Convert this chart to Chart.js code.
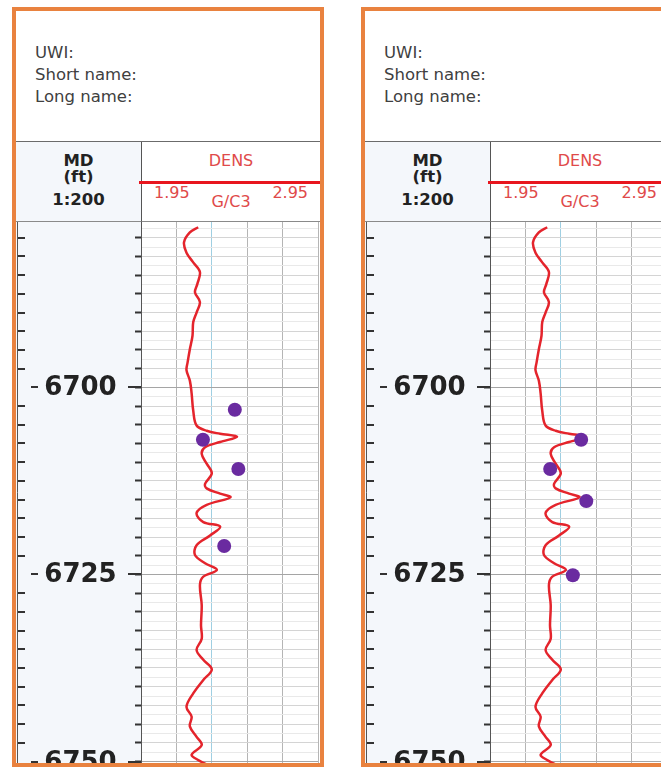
<!DOCTYPE html>
<html><head><meta charset="utf-8">
<script src="https://cdn.jsdelivr.net/npm/chart.js@4.4.1/dist/chart.umd.min.js"></script>
<style>
body{margin:0;width:661px;height:767px;overflow:hidden;position:relative;background:#fff;font-family:"DejaVu Sans",sans-serif;}
.panel{position:absolute;top:7px;width:312px;height:760px;border:4px solid #E9823F;box-sizing:border-box;background:#fff;overflow:hidden;}
.hdr{position:absolute;left:0;top:0;width:100%;height:131px;border-bottom:1px solid #6b6b6b;box-sizing:border-box;}
.hdr div{position:absolute;left:19px;font-size:16.5px;color:#404040;line-height:20px;white-space:nowrap}
.mdh{position:absolute;left:0;top:131px;width:126px;height:80px;background:#f4f7fb;border-right:1px solid #555;border-bottom:1px solid #8a8a8a;box-sizing:border-box;font-weight:bold;color:#222;}
.mdh div{position:absolute;left:0;width:125px;text-align:center;font-size:16.5px;line-height:18px}
.dh{position:absolute;left:126px;top:131px;right:0;height:80px;border-bottom:1px solid #8a8a8a;box-sizing:border-box;color:#e04a4a;}
.dh div{position:absolute;font-size:16px;line-height:18px;white-space:nowrap}
.dh .bar{position:absolute;left:-3px;right:0;top:39px;height:3px;background:#e8161e}
.track{position:absolute;left:0;top:211px;}
</style>
</head><body>
<div class="panel" style="left:12px">
  <div class="hdr"><div style="top:32px">UWI:</div><div style="top:54px">Short name:</div><div style="top:76px">Long name:</div></div>
  <div class="mdh"><div style="top:10px">MD</div><div style="top:26px">(ft)</div><div style="top:49px">1:200</div></div>
  <div class="dh"><div style="left:0;width:100%;text-align:center;top:10px">DENS</div><div class="bar"></div>
    <div style="left:12px;top:42px">1.95</div><div style="left:0;width:100%;text-align:center;top:51px">G/C3</div><div style="right:12px;top:42px">2.95</div></div>
  <canvas class="track" id="c1" width="304" height="541"></canvas>
</div>
<div class="panel" style="left:361px">
  <div class="hdr"><div style="top:32px">UWI:</div><div style="top:54px">Short name:</div><div style="top:76px">Long name:</div></div>
  <div class="mdh"><div style="top:10px">MD</div><div style="top:26px">(ft)</div><div style="top:49px">1:200</div></div>
  <div class="dh"><div style="left:0;width:100%;text-align:center;top:10px">DENS</div><div class="bar"></div>
    <div style="left:12px;top:42px">1.95</div><div style="left:0;width:100%;text-align:center;top:51px">G/C3</div><div style="right:12px;top:42px">2.95</div></div>
  <canvas class="track" id="c2" width="304" height="541"></canvas>
</div>
<script>
// ---- data ----
const curveDepth = [6678.6, 6679.3, 6680.6, 6682.0, 6683.3, 6684.6, 6686.2, 6687.3, 6688.6, 6690.0, 6691.3, 6693.1, 6694.9, 6696.7, 6697.7, 6699.1, 6700.8, 6703.1, 6705.1, 6705.8, 6706.2, 6706.6, 6707.3, 6708.0, 6708.9, 6710.2, 6711.5, 6712.9, 6713.5, 6714.2, 6714.7, 6715.7, 6716.8, 6718.0, 6718.6, 6719.8, 6721.1, 6722.4, 6723.5, 6724.4, 6725.3, 6726.4, 6729.1, 6731.8, 6733.6, 6735.1, 6736.4, 6737.7, 6739.1, 6740.9, 6742.7, 6744.0, 6745.3, 6746.7, 6747.8, 6749.1, 6749.8, 6750.4];
const curveDens = [2.273, 2.226, 2.193, 2.207, 2.245, 2.283, 2.268, 2.255, 2.283, 2.264, 2.245, 2.241, 2.226, 2.213, 2.207, 2.226, 2.236, 2.245, 2.264, 2.321, 2.397, 2.493, 2.397, 2.312, 2.293, 2.321, 2.350, 2.312, 2.321, 2.397, 2.455, 2.321, 2.264, 2.302, 2.397, 2.340, 2.264, 2.255, 2.312, 2.379, 2.302, 2.283, 2.293, 2.289, 2.293, 2.264, 2.302, 2.350, 2.302, 2.245, 2.207, 2.236, 2.226, 2.264, 2.293, 2.236, 2.273, 2.321];
const dotDepthLeft = [6703.0, 6707.0, 6710.9, 6721.2];
const dotDensLeft = [2.48, 2.30, 2.50, 2.42];
const dotDepthRight = [6707.0, 6710.9, 6715.2, 6725.1];
const dotDensRight = [2.465, 2.29, 2.494, 2.418];
const depthLabels = [6700, 6725, 6750];
const densGridTicks = [1.95, 2.15, 2.35, 2.55, 2.75, 2.95];
const depthMin = 6677.9, depthMax = 6750.2, densMin = 1.95, densMax = 2.95;

function near(v, m){ const r = v / m; return Math.abs(r - Math.round(r)) < 1e-6; }

const mdPlugin = {
  id: 'mdcol',
  beforeDraw(chart){
    const {ctx, chartArea:a} = chart;
    ctx.save();
    ctx.fillStyle = '#f4f7fb'; ctx.fillRect(0, 0, a.left, chart.height);
    ctx.fillStyle = '#ffffff'; ctx.fillRect(a.left, a.top, a.right - a.left, a.bottom - a.top);
    ctx.restore();
  },
  afterDraw(chart){
    const {ctx, chartArea:a} = chart;
    const ys = chart.scales.y;
    ctx.save();
    ctx.strokeStyle = '#555'; ctx.lineWidth = 1;
    ctx.beginPath(); ctx.moveTo(1.5, 0); ctx.lineTo(1.5, chart.height); ctx.stroke();
    ctx.strokeStyle = '#333'; ctx.lineWidth = 2;
    ys.ticks.forEach(t => {
      if (!near(t.value, 2.5) || near(t.value, 25)) return;
      const py = Math.round(ys.getPixelForValue(t.value));
      ctx.beginPath(); ctx.moveTo(2, py); ctx.lineTo(9, py); ctx.stroke();
    });
    ctx.fillStyle = '#222';
    ctx.font = 'bold 26px "DejaVu Sans"';
    ctx.textAlign = 'center'; ctx.textBaseline = 'middle';
    depthLabels.forEach(v => {
      const py = Math.round(ys.getPixelForValue(v));
      ctx.beginPath(); ctx.moveTo(15, py); ctx.lineTo(22, py); ctx.stroke();
      ctx.beginPath(); ctx.moveTo(a.left - 13, py); ctx.lineTo(a.left, py); ctx.stroke();
      ctx.fillText(String(v), a.left / 2 + 2, py + 1);
    });
    ctx.restore();
  }
};

function makeChart(id, dDepth, dDens){
  return new Chart(document.getElementById(id), {
    type: 'scatter',
    data: { datasets: [
      { data: dDepth.map((d, i) => ({x: dDens[i], y: d})), pointRadius: 7, pointHoverRadius: 7,
        backgroundColor: '#6a2ba0', borderWidth: 0, order: 1 },
      { data: curveDepth.map((d, i) => ({x: curveDens[i], y: d})), showLine: true, pointRadius: 0,
        borderColor: '#e4242c', borderWidth: 2.5, tension: 0.35, order: 2 }
    ]},
    options: {
      responsive: false, animation: false, devicePixelRatio: 1,
      layout: { autoPadding: false, padding: { left: 0, right: 2, top: 0, bottom: 0 } },
      plugins: { legend: { display: false }, tooltip: { enabled: false } },
      events: [],
      scales: {
        x: { type: 'linear', position: 'top', min: densMin, max: densMax,
          afterBuildTicks: s => { s.ticks = densGridTicks.map(v => ({value: v})); },
          ticks: { display: false },
          border: { display: false },
          grid: { drawTicks: false, lineWidth: 1,
            color: c => (c.tick && Math.abs(c.tick.value - 2.35) < 1e-6) ? '#9fcfe2' : '#b5b5b5' } },
        y: { type: 'linear', position: 'left', reverse: true, min: depthMin, max: depthMax,
          afterFit: s => { s.width = 125; },
          afterBuildTicks: s => {
            const arr = [];
            for (let k = Math.ceil(s.min / 1.25); k * 1.25 <= s.max; k++) arr.push({value: Math.round(k * 125) / 100});
            s.ticks = arr;
          },
          ticks: { display: false },
          border: { display: true, color: '#555', width: 1 },
          grid: { drawTicks: true, tickLength: 6, tickWidth: 2, lineWidth: 1,
            tickColor: c => (c.tick && near(c.tick.value, 2.5)) ? '#333' : 'rgba(0,0,0,0)',
            color: c => {
              if (!c.tick) return '#ddd';
              if (near(c.tick.value, 25)) return '#a5a5a5';
              if (near(c.tick.value, 2.5)) return '#d4d4d4';
              return '#e9e9e9';
            } } }
      }
    },
    plugins: [mdPlugin]
  });
}
makeChart('c1', dotDepthLeft, dotDensLeft);
makeChart('c2', dotDepthRight, dotDensRight);
</script>
</body></html>
